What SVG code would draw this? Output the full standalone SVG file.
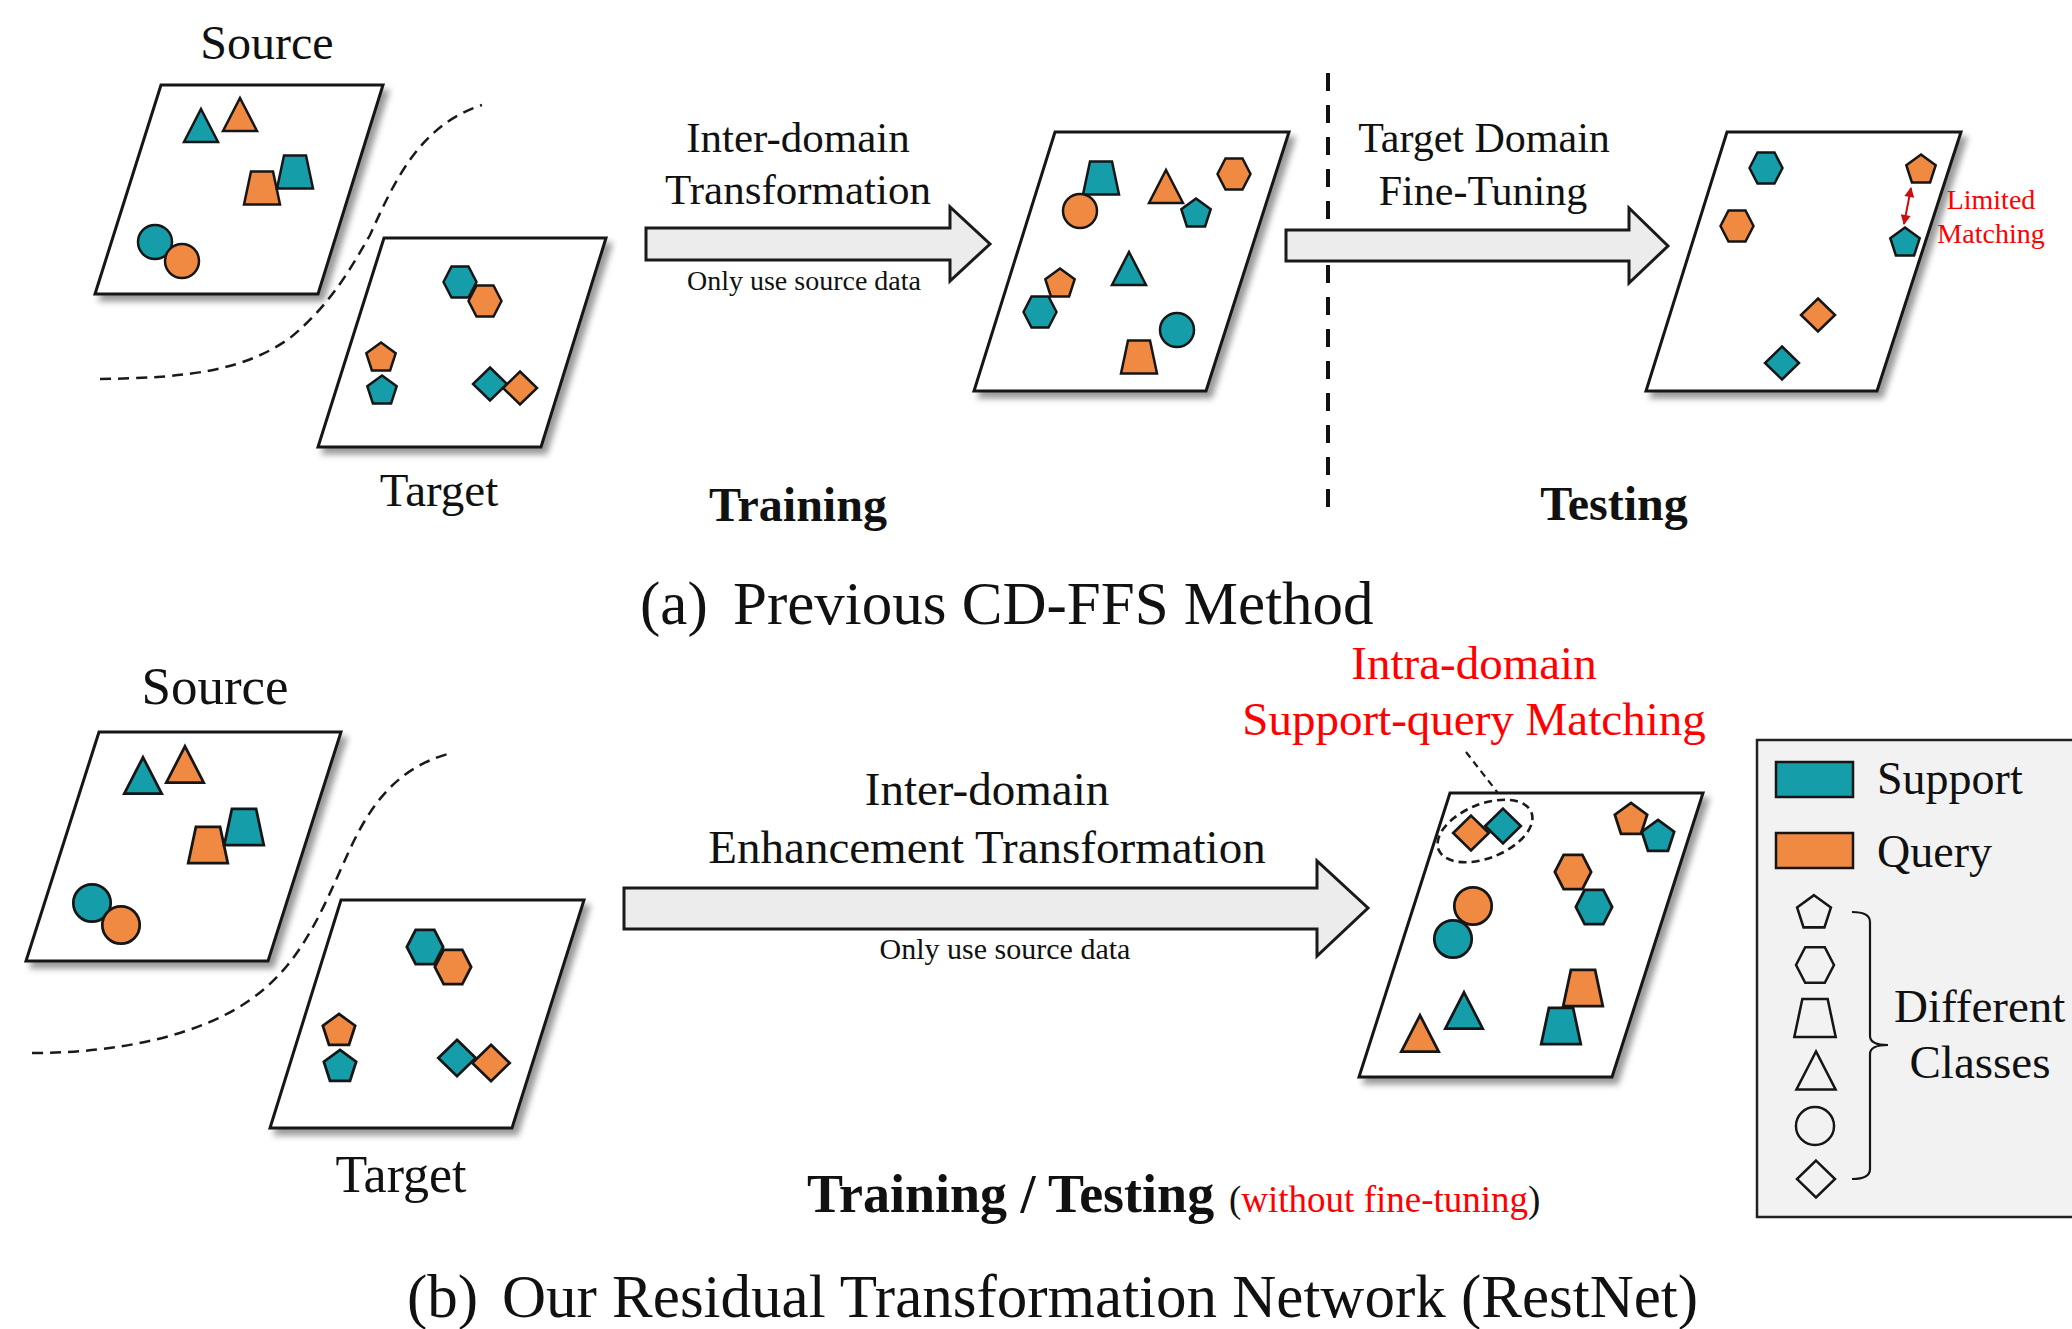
<svg xmlns="http://www.w3.org/2000/svg" xmlns:xlink="http://www.w3.org/1999/xlink" width="2072" height="1329" viewBox="0 0 2072 1329">
<style>
text{font-family:"Liberation Serif","Times New Roman",serif;fill:#111}
.b{font-weight:bold}
.r{fill:#ff0000}
.mid{text-anchor:middle}
.t{fill:#159eaa;stroke:#161616;stroke-width:2.5;stroke-linejoin:miter}
.o{fill:#f08a42;stroke:#161616;stroke-width:2.5;stroke-linejoin:miter}
.n{fill:none;stroke:#161616;stroke-width:2.2}
.para{fill:#fff;stroke:#161616;stroke-width:3;filter:url(#sh)}
.arrow{fill:#ececec;stroke:#1a1a1a;stroke-width:3;stroke-linejoin:miter}
.dash{fill:none;stroke:#1a1a1a;stroke-width:2.5;stroke-dasharray:11 7}
</style>
<defs>
<filter id="sh" x="-10%" y="-10%" width="130%" height="130%">
<feDropShadow dx="5" dy="6" stdDeviation="3" flood-color="#000" flood-opacity="0.4"/>
</filter>
<polygon id="hex" points="-16.5,0 -8.5,-15.5 8.5,-15.5 16.5,0 8.5,15.5 -8.5,15.5"/>
<polygon id="pent" points="0,-15.5 14.7,-4.8 9.1,12.5 -9.1,12.5 -14.7,-4.8"/>
<polygon id="tri" points="0,-17 17,16 -17,16"/>
<polygon id="trap" points="-11,-16.5 11,-16.5 18,16.5 -18,16.5"/>
<polygon id="dia" points="0,-16.5 17,0 0,16.5 -17,0"/>
<circle id="cir" cx="0" cy="0" r="17"/>
<marker id="ra" viewBox="0 0 10 10" refX="9" refY="5" markerWidth="11" markerHeight="10" markerUnits="userSpaceOnUse" orient="auto-start-reverse">
<path d="M0,0 L10,5 L0,10 z" fill="#cc0e0e"/>
</marker>
</defs>

<!-- ===== (a) Previous method ===== -->
<g id="a-source">
<polygon class="para" points="161,85 383,85 318,294 95,294"/>
<use href="#tri" class="t" x="201" y="126"/>
<use href="#tri" class="o" x="240" y="115"/>
<use href="#trap" class="o" x="262" y="188"/>
<use href="#trap" class="t" x="295" y="172"/>
<use href="#cir" class="t" x="155" y="242"/>
<use href="#cir" class="o" x="182" y="261"/>
</g>
<text class="mid" x="267" y="59" font-size="48">Source</text>

<g id="a-target">
<polygon class="para" points="384,238 606,238 541,447 318,447"/>
<use href="#hex" class="t" x="460" y="282"/>
<use href="#hex" class="o" x="485" y="301"/>
<use href="#pent" class="o" x="381" y="358"/>
<use href="#pent" class="t" x="382" y="391"/>
<use href="#dia" class="t" x="490" y="384"/>
<use href="#dia" class="o" x="520" y="388"/>
</g>
<text class="mid" x="439" y="506" font-size="47">Target</text>

<g id="a-mid">
<polygon class="para" points="1055,132 1289,132 1206,391 974,391"/>
<use href="#trap" class="t" x="1101" y="178"/>
<use href="#cir" class="o" x="1080" y="211"/>
<use href="#tri" class="o" x="1166" y="187"/>
<use href="#pent" class="t" x="1196" y="214"/>
<use href="#hex" class="o" x="1234" y="174"/>
<use href="#pent" class="o" x="1060" y="284"/>
<use href="#hex" class="t" x="1040" y="312"/>
<use href="#tri" class="t" x="1129" y="269"/>
<use href="#cir" class="t" x="1177" y="330"/>
<use href="#trap" class="o" x="1139" y="357"/>
</g>

<g id="a-test">
<polygon class="para" points="1727,132 1961,132 1877,391 1646,391"/>
<use href="#hex" class="t" x="1766" y="168"/>
<use href="#hex" class="o" x="1737" y="226"/>
<use href="#pent" class="o" x="1921" y="170"/>
<use href="#pent" class="t" x="1905" y="243"/>
<use href="#dia" class="o" x="1818" y="315"/>
<use href="#dia" class="t" x="1782" y="363"/>
</g>

<g id="connectors">
<path class="dash" d="M100,379 C190,378 245,370 290,338 C330,305 350,270 370,235 C395,180 420,125 482,105"/>
<line x1="1328" y1="73" x2="1328" y2="512" stroke="#111" stroke-width="4" stroke-dasharray="18 14"/>
<polygon class="arrow" points="646,228 950,228 950,207 990,244 950,281 950,260 646,260"/>
<polygon class="arrow" points="1286,230 1629,230 1629,208 1668,246 1629,283 1629,261 1286,261"/>
<line x1="1911" y1="188" x2="1904" y2="224" stroke="#cc0e0e" stroke-width="2" marker-start="url(#ra)" marker-end="url(#ra)"/>
<path class="dash" d="M32,1053 C120,1053 200,1035 250,1000 C300,965 320,915 345,860 C365,815 390,770 448,754"/>
<polygon class="arrow" points="624,888 1317,888 1317,861 1368,908 1317,956 1317,929 624,929"/>
<line x1="1466" y1="752" x2="1501" y2="797" stroke="#1a1a1a" stroke-width="2.2" stroke-dasharray="7 5"/>
</g>

<g id="a-labels">
<text class="mid" x="798" y="152" font-size="43">Inter-domain</text>
<text class="mid" x="798" y="204" font-size="43">Transformation</text>
<text class="mid" x="804" y="290" font-size="28">Only use source data</text>
<text class="mid b" x="798" y="521" font-size="48">Training</text>
<text class="mid" x="1484" y="152" font-size="42">Target Domain</text>
<text class="mid" x="1483" y="205" font-size="42">Fine-Tuning</text>
<text class="mid r" x="1991" y="209" font-size="28">Limited</text>
<text class="mid r" x="1991" y="243" font-size="28">Matching</text>
<text class="mid b" x="1614" y="520" font-size="48">Testing</text>
<text x="640" y="624" font-size="61">(a)</text>
<text x="733" y="624" font-size="61">Previous CD-FFS Method</text>
</g>

<!-- ===== (b) RestNet ===== -->
<g id="b-source">
<polygon class="para" points="99,732 341,732 268,961 26,961"/>
<g transform="translate(143,776) scale(1.1)"><use href="#tri" class="t"/></g>
<g transform="translate(185,765) scale(1.1)"><use href="#tri" class="o"/></g>
<g transform="translate(208,845) scale(1.1)"><use href="#trap" class="o"/></g>
<g transform="translate(244,827) scale(1.1)"><use href="#trap" class="t"/></g>
<g transform="translate(92,903) scale(1.1)"><use href="#cir" class="t"/></g>
<g transform="translate(121,925) scale(1.1)"><use href="#cir" class="o"/></g>
</g>
<text class="mid" x="215" y="704" font-size="53">Source</text>

<g id="b-target">
<polygon class="para" points="341,900 584,900 512,1128 270,1128"/>
<g transform="translate(425,947) scale(1.1)"><use href="#hex" class="t"/></g>
<g transform="translate(453,967) scale(1.1)"><use href="#hex" class="o"/></g>
<g transform="translate(339,1031) scale(1.1)"><use href="#pent" class="o"/></g>
<g transform="translate(340,1067) scale(1.1)"><use href="#pent" class="t"/></g>
<g transform="translate(457,1058) scale(1.1)"><use href="#dia" class="t"/></g>
<g transform="translate(491,1063) scale(1.1)"><use href="#dia" class="o"/></g>
</g>
<text class="mid" x="401" y="1192" font-size="52">Target</text>

<g id="b-result">
<polygon class="para" points="1450,793 1703,793 1612,1077 1359,1077"/>
<ellipse cx="1485" cy="831" rx="50" ry="27" transform="rotate(-22 1485 831)" fill="none" stroke="#1a1a1a" stroke-width="2.6" stroke-dasharray="8 5"/>
<g transform="translate(1471,833) scale(1.05)"><use href="#dia" class="o"/></g>
<g transform="translate(1503,826) scale(1.05)"><use href="#dia" class="t"/></g>
<g transform="translate(1631,820) scale(1.1)"><use href="#pent" class="o"/></g>
<g transform="translate(1658,837) scale(1.1)"><use href="#pent" class="t"/></g>
<g transform="translate(1573,872) scale(1.1)"><use href="#hex" class="o"/></g>
<g transform="translate(1594,907) scale(1.1)"><use href="#hex" class="t"/></g>
<g transform="translate(1473,906) scale(1.1)"><use href="#cir" class="o"/></g>
<g transform="translate(1453,939) scale(1.1)"><use href="#cir" class="t"/></g>
<g transform="translate(1420,1034) scale(1.1)"><use href="#tri" class="o"/></g>
<g transform="translate(1464,1011) scale(1.1)"><use href="#tri" class="t"/></g>
<g transform="translate(1583,988) scale(1.1)"><use href="#trap" class="o"/></g>
<g transform="translate(1561,1026) scale(1.1)"><use href="#trap" class="t"/></g>
</g>

<g id="b-labels">
<text class="mid" x="987" y="805" font-size="47">Inter-domain</text>
<text class="mid" x="987" y="863" font-size="47">Enhancement Transformation</text>
<text class="mid" x="1005" y="959" font-size="30">Only use source data</text>
<text class="mid r" x="1474" y="679" font-size="47">Intra-domain</text>
<text class="mid r" x="1474" y="735" font-size="47">Support-query Matching</text>
<text class="b" x="807" y="1212" font-size="54">Training / Testing</text>
<text x="1229" y="1212" font-size="37">(<tspan class="r">without fine-tuning</tspan>)</text>
<text x="407" y="1317" font-size="61">(b)</text>
<text x="502" y="1317" font-size="61">Our Residual Transformation Network (RestNet)</text>
</g>

<g id="legend">
<rect x="1757" y="740" width="330" height="477" fill="#f2f2f2" stroke="#222" stroke-width="2.5"/>
<rect x="1776" y="762" width="77" height="35" class="t"/>
<rect x="1776" y="833" width="77" height="35" class="o"/>
<text x="1877" y="794" font-size="46">Support</text>
<text x="1877" y="867" font-size="46">Query</text>
<g transform="translate(1814,913) scale(1.15)"><use href="#pent" class="n"/></g>
<g transform="translate(1815,965) scale(1.15)"><use href="#hex" class="n"/></g>
<g transform="translate(1815,1018) scale(1.15)"><use href="#trap" class="n"/></g>
<g transform="translate(1816,1071) scale(1.15)"><use href="#tri" class="n"/></g>
<g transform="translate(1815,1126) scale(1.12)"><use href="#cir" class="n"/></g>
<g transform="translate(1816,1179) scale(1.12)"><use href="#dia" class="n"/></g>
<path d="M1852,912 Q1870,912 1870,922 L1870,1036 Q1870,1045 1888,1045 Q1870,1045 1870,1054 L1870,1169 Q1870,1179 1852,1179" fill="none" stroke="#161616" stroke-width="2.2"/>
<text x="1894" y="1022" font-size="47">Different</text>
<text class="mid" x="1980" y="1078" font-size="47">Classes</text>
</g>
</svg>
